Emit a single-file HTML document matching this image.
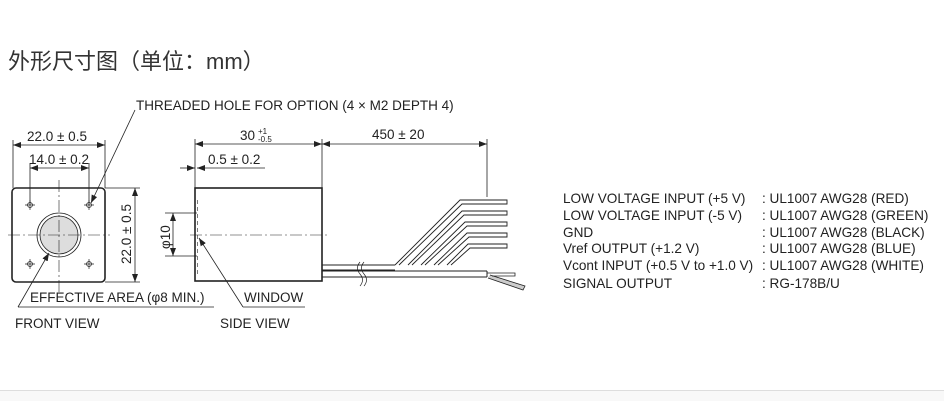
<!DOCTYPE html>
<html><head><meta charset="utf-8"><style>
html,body{margin:0;padding:0;background:#fff;width:944px;height:400px;overflow:hidden}
.t{position:absolute;left:8px;top:44px;font:22px "Liberation Sans","Noto Sans CJK SC",sans-serif;color:#333}
.foot{position:absolute;left:0;top:390px;width:944px;height:10px;background:#f8f8f8;border-top:1px solid #ddd}
svg{position:absolute;left:0;top:0}
text{font-family:"Liberation Sans",sans-serif;fill:#222}
</style></head><body>
<div class="t">外形尺寸图（单位：mm）</div>
<svg width="944" height="400" viewBox="0 0 944 400">
<defs><marker id="a" markerWidth="8" markerHeight="6" refX="8" refY="3" orient="auto-start-reverse" markerUnits="userSpaceOnUse"><path d="M0,0L8,3L0,6z" fill="#222"/></marker></defs>
<g stroke="#222" fill="none" stroke-width="0.8">
<rect x="12" y="188" width="93" height="94" rx="4" stroke-width="1.6"/>
<circle cx="59" cy="235" r="22"/><circle cx="59" cy="235" r="19" fill="#ddd"/>
<g stroke-width="0.7"><circle cx="30" cy="205" r="2.5"/><circle cx="89" cy="205" r="2.5"/><circle cx="30" cy="264" r="2.5"/><circle cx="89" cy="264" r="2.5"/>
<path d="M25,205h10M30,200v10M84,205h10M89,200v10M25,264h10M30,259v10M84,264h10M89,259v10"/></g>
<path d="M8,235H110M59,180V292" stroke-dasharray="12,3,2,3" stroke-width="0.6"/>
<path d="M13,140V188M105,140V188M30,163V205M89,163V205"/>
<path d="M13,145H105" marker-start="url(#a)" marker-end="url(#a)"/>
<path d="M30,168H89" marker-start="url(#a)" marker-end="url(#a)"/>
<path d="M105,188H140M105,282H140"/>
<path d="M135,188V282" marker-start="url(#a)" marker-end="url(#a)"/>
<path d="M135,110L91,203" marker-end="url(#a)"/>
<path d="M18,307L49,253" marker-end="url(#a)"/><path d="M18,307H214"/>
<rect x="195" y="188" width="127" height="93" stroke-width="1.6"/>
<path d="M197.5,200V275" stroke-dasharray="4,3" stroke-width="0.6"/>
<path d="M190,235H327" stroke-dasharray="12,3,2,3" stroke-width="0.6"/>
<path d="M195,139V188M322,139V188M487,139V197"/>
<path d="M195,144H322" marker-start="url(#a)" marker-end="url(#a)"/>
<path d="M322,144H487" marker-start="url(#a)" marker-end="url(#a)"/>
<path d="M180,168H195" marker-end="url(#a)"/><path d="M205,168H197" marker-end="url(#a)"/><path d="M205,168H265"/>
<path d="M165,213H197M165,256H197"/>
<path d="M173,213V256" marker-start="url(#a)" marker-end="url(#a)"/>
<path d="M243,307L199,238" marker-end="url(#a)"/><path d="M243,307H305"/>
<path d="M322,265H395M322,270H395M322,271H487M322,277H487M487,271V277" stroke-width="1"/>
<path d="M360,262q-5,6 0,12q5,6 0,12M364,262q-5,6 0,12q5,6 0,12" stroke-width="0.7"/>
<path d="M490,275L525,286L523,290L488,278" fill="#ccc"/>
<path d="M487,273H515V276H492" />
<g stroke-width="0.9">
<path d="M395,265L460,200H487M399,265L462,204H487"/>
<path d="M408,265L462,211H487M412,265L464,215H487"/>
<path d="M421,265L465,222H487M425,265L467,226H487"/>
<path d="M434,265L467,233H487M438,265L469,237H487"/>
<path d="M447,265L468,244H487M451,265L470,248H487"/>
<path d="M487,200h20v4h-20M487,211h20v4h-20M487,222h20v4h-20M487,233h20v4h-20M487,244h20v4h-20"/>
</g>
</g>
<g font-size="13.5">
<text x="136" y="110">THREADED HOLE FOR OPTION (4 × M2 DEPTH 4)</text>
<text x="27" y="141">22.0 ± 0.5</text>
<text x="29" y="164">14.0 ± 0.2</text>
<text transform="translate(131,264) rotate(-90)">22.0 ± 0.5</text>
<text transform="translate(170,249) rotate(-90)">φ10</text>
<text x="240" y="140">30</text><text x="258" y="134" font-size="8">+1</text><text x="258" y="142" font-size="8">-0.5</text>
<text x="372" y="139">450 ± 20</text>
<text x="208" y="164">0.5 ± 0.2</text>
<text x="30" y="302">EFFECTIVE AREA (φ8 MIN.)</text>
<text x="244" y="302">WINDOW</text>
<text x="15" y="328">FRONT VIEW</text>
<text x="220" y="328">SIDE VIEW</text>
</g>
<g font-size="13.6">
<text x="563" y="203">LOW VOLTAGE INPUT (+5 V)</text><text x="762" y="203">: UL1007 AWG28 (RED)</text>
<text x="563" y="220">LOW VOLTAGE INPUT (-5 V)</text><text x="762" y="220">: UL1007 AWG28 (GREEN)</text>
<text x="563" y="237">GND</text><text x="762" y="237">: UL1007 AWG28 (BLACK)</text>
<text x="563" y="253">Vref OUTPUT (+1.2 V)</text><text x="762" y="253">: UL1007 AWG28 (BLUE)</text>
<text x="563" y="270">Vcont INPUT (+0.5 V to +1.0 V)</text><text x="762" y="270">: UL1007 AWG28 (WHITE)</text>
<text x="563" y="288">SIGNAL OUTPUT</text><text x="762" y="288">: RG-178B/U</text>
</g>
</svg>
<div class="foot"></div>
</body></html>
